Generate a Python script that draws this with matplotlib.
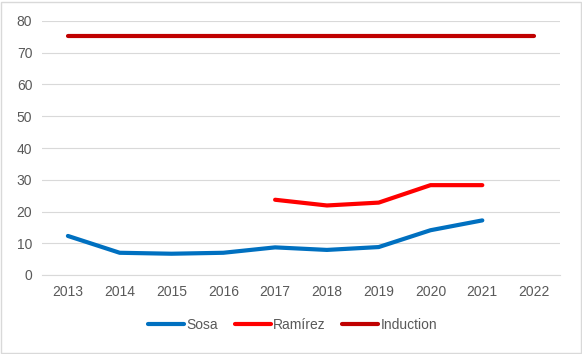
import numpy as np
import matplotlib.pyplot as plt
from matplotlib.patches import Rectangle

years = ["2013", "2014", "2015", "2016", "2017", "2018", "2019", "2020", "2021", "2022"]
sosa = [12.3, 7.0, 6.7, 7.0, 8.7, 7.9, 8.8, 14.1, 17.2, np.nan]
ramirez = [np.nan, np.nan, np.nan, np.nan, 23.7, 21.9, 22.8, 28.3, 28.3, np.nan]
induction = [75.2] * 10

plt.rcParams['font.family'] = ['Liberation Sans', 'DejaVu Sans']

fig = plt.figure(figsize=(5.82, 3.54), dpi=100)
ax = fig.add_axes([42 / 582, 1 - 275 / 354, (560 - 42) / 582, (275 - 21) / 354])

x = np.arange(len(years))
ax.plot(x, sosa, color="#0070C0", lw=3, label="Sosa", solid_capstyle="round")
ax.plot(x, ramirez, color="#FF0000", lw=3, label="Ramírez", solid_capstyle="round")
ax.plot(x, induction, color="#C00000", lw=3, label="Induction", solid_capstyle="round")

ax.set_xlim(-0.5, len(years) - 0.5)
ax.set_ylim(0, 80)
ax.set_yticks(range(0, 81, 10))
ax.set_xticks(x)
ax.set_xticklabels(years)
ax.grid(axis="y", color="#D9D9D9", lw=0.8)
ax.set_axisbelow(True)
for s in ["top", "right", "left"]:
    ax.spines[s].set_visible(False)
ax.spines["bottom"].set_color("#D9D9D9")
ax.tick_params(length=0, labelsize=10, labelcolor="#595959", pad=7)

leg = fig.legend(loc="center", bbox_to_anchor=(0.503, 1 - 325 / 354), ncol=3,
                 frameon=False, fontsize=10, handlelength=2.6, handletextpad=0.15,
                 columnspacing=1.2)
for t in leg.get_texts():
    t.set_color("#595959")

fig.patches.append(Rectangle((1 / 582, 1 / 354), 580 / 582, 351 / 354, transform=fig.transFigure,
                             fill=False, edgecolor="#D9D9D9", lw=1))

fig.savefig("out.png", dpi=100)
